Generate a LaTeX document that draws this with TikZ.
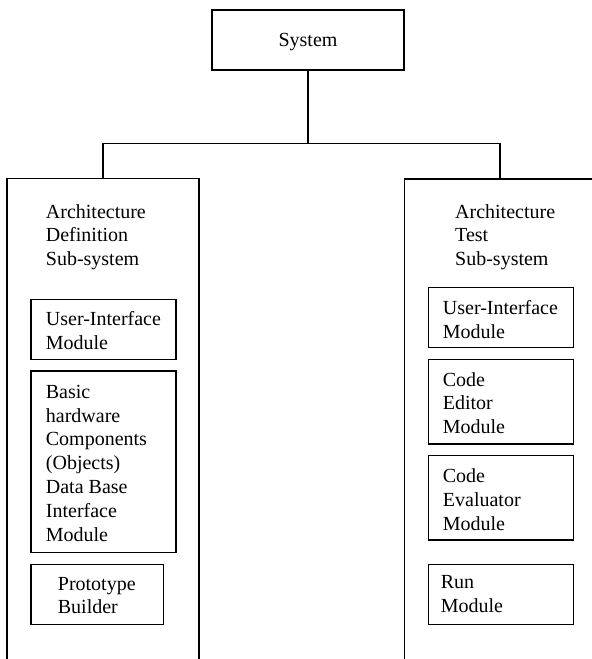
\documentclass[tikz,border=0pt]{standalone}
\usepackage{fontspec}
\setmainfont{Liberation Serif}
\newcommand{\txtlines}[1]{\begin{tabular}[t]{@{}l@{}}#1\end{tabular}}
\begin{document}
\begin{tikzpicture}[x=1pt,y=-1pt,
  every node/.style={font=\fontsize{20}{23.8}\selectfont},
  boxnode/.style={draw,rectangle,inner sep=0pt,line width=1.4pt},
  label text/.style={anchor=base west,inner sep=0pt},
  link/.style={line width=1.4pt}]
\useasboundingbox (0,0) rectangle (592,659);
\clip (0,0) rectangle (592,659);
% system
\node[boxnode,minimum width=192pt,minimum height=60pt,text depth=0pt] (sys) at (308,40) {System};
% sub-systems
\node[boxnode,minimum width=192pt,minimum height=521.7pt] (left) at (103,439.15) {};
\node[boxnode,minimum width=190.6pt,minimum height=521pt] (right) at (500,439.5) {};
\coordinate (junc) at (308,143.3);
\draw[link] (sys.south) -- (junc) -| (left.north);
\draw[link] (junc) -| (right.north);
\node[label text] (lhead) at (45.7,218) {\txtlines{Architecture\\Definition\\Sub-system}};
\node[label text] (rhead) at (455,218) {\txtlines{Architecture\\Test\\Sub-system}};
% left modules
\node[boxnode,minimum width=145pt,minimum height=60pt] (lui) at (103.5,329.3) {};
\node[label text] (luit) at (45.7,325.3) {\txtlines{User-Interface\\Module}};
\node[boxnode,minimum width=145pt,minimum height=181.3pt] (lbasic) at (103.5,461.65) {};
\node[label text] (lbasict) at (45.7,398.3) {\txtlines{Basic\\hardware\\Components\\(Objects)\\Data Base\\Interface\\Module}};
\node[boxnode,minimum width=132.7pt,minimum height=60pt] (lproto) at (97.35,594.3) {};
\node[label text] (lprotot) at (57.7,590) {\txtlines{Prototype\\Builder}};
% right modules
\node[boxnode,minimum width=145pt,minimum height=60.4pt] (rui) at (501.2,317.5) {};
\node[label text] (ruit) at (442.7,314.3) {\txtlines{User-Interface\\Module}};
\node[boxnode,minimum width=145pt,minimum height=84.7pt] (redit) at (501.2,401.65) {};
\node[label text] (reditt) at (442.7,386) {\txtlines{Code\\Editor\\Module}};
\node[boxnode,minimum width=145pt,minimum height=84.3pt] (reval) at (501.2,497.85) {};
\node[label text] (revalt) at (442.7,482.7) {\txtlines{Code\\Evaluator\\Module}};
\node[boxnode,minimum width=145pt,minimum height=60pt] (rrun) at (501.2,594.3) {};
\node[label text] (rrunt) at (440.7,588.3) {\txtlines{Run\\Module}};
\end{tikzpicture}
\end{document}
